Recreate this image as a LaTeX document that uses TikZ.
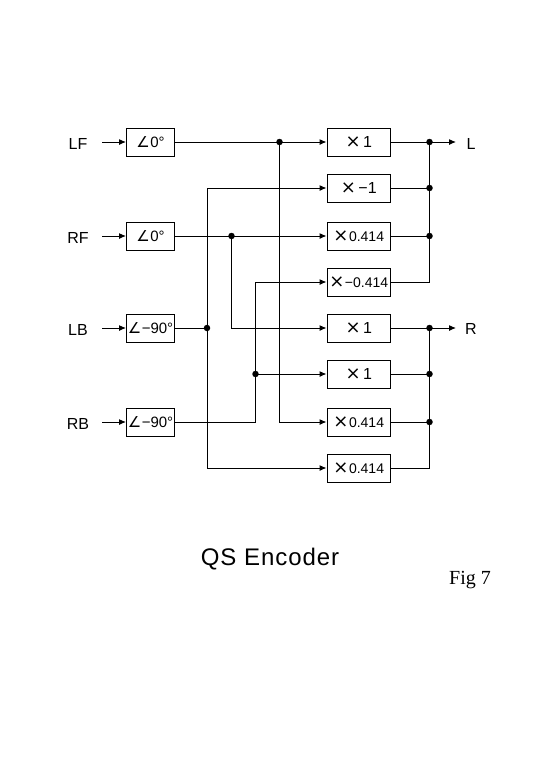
\documentclass[tikz,border=0pt]{standalone}
\usepackage{fontspec}
\setmainfont{Liberation Sans}
\newfontfamily\figfont{Liberation Serif}
\newfontfamily\symfont{DejaVu Sans}
\usetikzlibrary{arrows.meta,calc,positioning}
\newcommand{\phasetxt}[1]{{\symfont\fontsize{15}{15}\selectfont ∠}\kern0.5pt#1°}
\newcommand{\gaintxt}[1]{{\symfont\fontsize{18}{18}\selectfont ×}\kern0.5pt#1}
\newcommand{\unittxt}[1]{\fontsize{16}{16}\selectfont\kern2pt#1}
\tikzset{
  blk/.style={draw,line width=1pt,minimum height=28pt,inner sep=0pt},
  phaseblk/.style={blk,minimum width=48pt,font=\fontsize{15}{17}\selectfont},
  gainblk/.style={blk,minimum width=63.5pt,font=\fontsize{14}{16}\selectfont},
  sig/.style={line width=1pt},
  sigarrow/.style={sig,-{Latex[length=7pt,width=6pt]}},
  junct/.style={circle,fill=black,inner sep=0pt,minimum size=6.5pt},
  lbl/.style={inner sep=0pt,font=\fontsize{16}{18}\selectfont}
}
\begin{document}
\begin{tikzpicture}[x=1pt,y=-1pt]
      \useasboundingbox[fill=white] (0,0) rectangle (540,780);
      %Phase blocks
      \foreach \n/\y/\t in {LF/142/0,RF/236/0,LB/328/−90,RB/422/−90} {
          \node[phaseblk] (a\n) at (150.5,\y) {\phasetxt{\t}};
          \node[lbl] (t\n) at (78,\y+2) {\n};
          \coordinate (s\n) at (102,\y);
          \draw[sigarrow] (s\n) -- (a\n.west);
        }
      %Gain blocks
      \foreach \n/\y/\t in {1/142/\unittxt{1},2/188/\unittxt{−1},3/236/0.414,4/282/−0.414,5/328/\unittxt{1},6/374/\unittxt{1},7/422/0.414,8/468/0.414} {
          \node[gainblk] (m\n) at (358.75,\y) {\gaintxt{\t}};
        }
      %Junctions
      \node[junct] (jLF) at (279.5,142) {};
      \node[junct] (jRF) at (231.5,236) {};
      \node[junct] (jLB) at (207,328) {};
      \node[junct] (jRB) at (255.5,374) {};
      \node[junct] (jL1) at (429.5,142) {};
      \node[junct] (jL2) at (429.5,188) {};
      \node[junct] (jL3) at (429.5,236) {};
      \node[junct] (jR1) at (429.5,328) {};
      \node[junct] (jR2) at (429.5,374) {};
      \node[junct] (jR3) at (429.5,422) {};
      %Draw the inputs
      \draw[sig] (aLF.east) -- (jLF.center);
      \draw[sigarrow] (jLF.center) -- (m1.west);
      \draw[sig] (aRF.east) -- (jRF.center);
      \draw[sigarrow] (jRF.center) -- (m3.west);
      \draw[sig] (aLB.east) -- (jLB.center);
      \draw[sig] (aRB.east) -| (jRB.center);
      \draw[sigarrow] (jLF.center) |- (m7.west);
      \draw[sigarrow] (jRF.center) |- (m5.west);
      \draw[sigarrow] (jLB.center) |- (m2.west);
      \draw[sigarrow] (jLB.center) |- (m8.west);
      \draw[sigarrow] (jRB.center) |- (m4.west);
      \draw[sigarrow] (jRB.center) -- (m6.west);
      %Draw the outputs
      \node[lbl] (tL) at (471,144) {L};
      \node[lbl] (tR) at (471,329) {R};
      \coordinate (eL) at (456,142);
      \coordinate (eR) at (456,328);
      \draw[sig] (m1.east) -- (jL1.center);
      \draw[sigarrow] (jL1.center) -- (eL);
      \draw[sig] (m2.east) -- (jL2.center);
      \draw[sig] (m3.east) -- (jL3.center);
      \draw[sig] (m4.east) -| (jL1.center);
      \draw[sig] (m5.east) -- (jR1.center);
      \draw[sigarrow] (jR1.center) -- (eR);
      \draw[sig] (m6.east) -- (jR2.center);
      \draw[sig] (m7.east) -- (jR3.center);
      \draw[sig] (m8.east) -| (jR1.center);
      %Captions
      \node[inner sep=0pt,font=\fontsize{24}{26}\selectfont\addfontfeature{LetterSpace=4}] (title) at (270,559) {QS Encoder};
      \node[inner sep=0pt,font=\fontsize{20}{22}\selectfont\figfont] (fig) at (470,580) {Fig 7};
    \end{tikzpicture}
\end{document}
